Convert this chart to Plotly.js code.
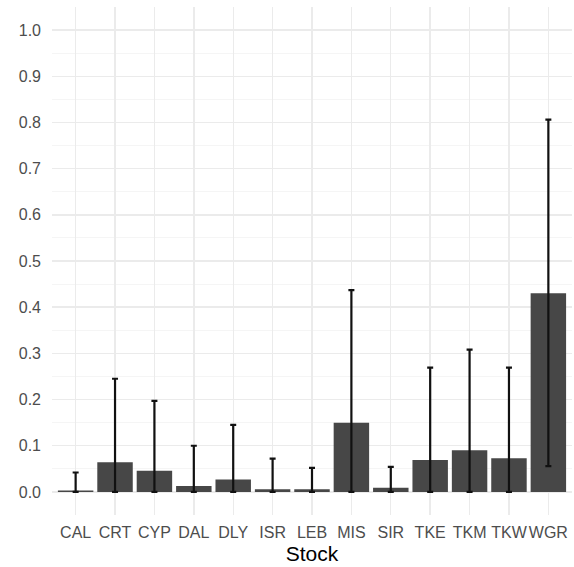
<!DOCTYPE html>
<html>
<head>
<meta charset="utf-8">
<script src="https://cdn.plot.ly/plotly-3.0.1.min.js"></script>
<style>html,body{margin:0;padding:0;background:#fff;}#chart{width:574px;height:567px;}</style>
</head>
<body>
<div id="chart"></div>
<script>
const stocks = ["CAL","CRT","CYP","DAL","DLY","ISR","LEB","MIS","SIR","TKE","TKM","TKW","WGR"];
const meanValues = [0.003,0.064,0.046,0.013,0.027,0.006,0.006,0.150,0.009,0.069,0.090,0.073,0.430];
const upperValues = [0.042,0.245,0.197,0.100,0.145,0.072,0.052,0.437,0.054,0.269,0.308,0.269,0.806];
const lowerValues = [0,0,0,0,0,0,0,0,0,0,0,0,0.056];
const yTicks = [0,0.1,0.2,0.3,0.4,0.5,0.6,0.7,0.8,0.9,1.0];
const yTickText = ["0.0","0.1","0.2","0.3","0.4","0.5","0.6","0.7","0.8","0.9","1.0"];

const plus = meanValues.map((v,i)=>upperValues[i]-v);
const minus = meanValues.map((v,i)=>v-lowerValues[i]);

const trace = {
  type: "bar",
  x: stocks,
  y: meanValues,
  marker: {color: "#474747", line: {width: 0}},
  error_y: {type: "data", symmetric: false, array: plus, arrayminus: minus,
            color: "#111111", thickness: 2.2, width: 3},
  hoverinfo: "x+y"
};

const font = "Liberation Sans, Arial, sans-serif";
const layout = {
  width: 574, height: 567,
  margin: {l: 52, r: 2, t: 7, b: 52},
  paper_bgcolor: "#ffffff", plot_bgcolor: "#ffffff",
  showlegend: false,
  bargap: 0.1,
  font: {family: font, size: 16, color: "#4d4d4d"},
  xaxis: {
    type: "category",
    range: [-0.6, 12.6],
    tickmode: "array", tickvals: stocks, ticktext: stocks,
    tickangle: 0,
    showgrid: true, gridcolor: "#ebebeb", gridwidth: 1.4,
    zeroline: false, showline: false, ticks: "",
    tickfont: {family: font, size: 16, color: "#4d4d4d"},
    ticklabelstandoff: 6,
    title: {text: "Stock", font: {family: font, size: 21, color: "#000000"}, standoff: 6},
    fixedrange: true
  },
  yaxis: {
    range: [-0.05, 1.05],
    tickmode: "array", tickvals: yTicks, ticktext: yTickText,
    showgrid: true, gridcolor: "#ebebeb", gridwidth: 1.4,
    minor: {tickmode: "array", tickvals: [0.05,0.15,0.25,0.35,0.45,0.55,0.65,0.75,0.85,0.95,1.05,-0.05], showgrid: true, gridcolor: "#f2f2f2", gridwidth: 0.8, ticks: ""},
    zeroline: false, showline: false, ticks: "",
    tickfont: {family: font, size: 16, color: "#4d4d4d"},
    ticklabelstandoff: 10,
    fixedrange: true
  }
};
Plotly.newPlot("chart", [trace], layout, {displayModeBar: false, staticPlot: true});
</script>
</body>
</html>
